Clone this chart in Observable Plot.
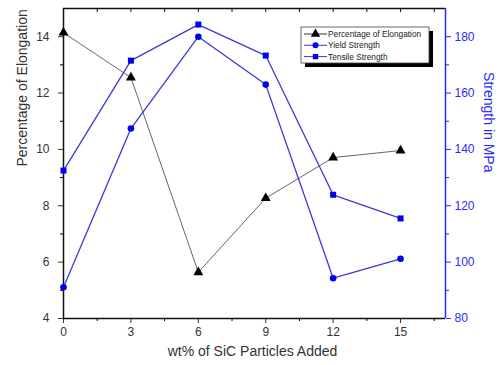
<!DOCTYPE html>
<html><head><meta charset="utf-8">
<script src="https://cdn.jsdelivr.net/npm/d3@7"></script>
<script src="https://cdn.jsdelivr.net/npm/@observablehq/plot@0.6"></script>
<style>body{margin:0;background:#fff;}</style>
</head><body><div id="chart"></div>
<script>
const wt = [0, 3, 6, 9, 12, 15];
const elongation = [14.14, 12.55, 5.64, 8.27, 9.71, 9.96];
const yieldStrength = [91.1, 147.4, 180.0, 163.0, 94.3, 101.2];
const tensileStrength = [132.5, 171.5, 184.3, 173.3, 123.9, 115.5];
const xTicks = [0, 3, 6, 9, 12, 15];
const xMinor = [1.5, 4.5, 7.5, 10.5, 13.5, 16.5];
const yTicks = [4, 6, 8, 10, 12, 14];
const yMinor = [5, 7, 9, 11, 13];
const sTicks = [80, 100, 120, 140, 160, 180];
const sMinor = [90, 110, 130, 150, 170];
const seriesNames = ["Percentage of Elongation", "Yield Strength", "Tensile Strength"];

// strength (MPa) -> elongation scale: 80 -> 4, 180 -> 14
const s2e = s => 4 + (s - 80) / 10;
const e2s = e => (e - 4) * 10 + 80;

const elongData = wt.map((x, i) => ({x, y: elongation[i]}));
const yieldData = wt.map((x, i) => ({x, y: s2e(yieldStrength[i])}));
const tensileData = wt.map((x, i) => ({x, y: s2e(tensileStrength[i])}));

const BLUE_LINE = "#3a3ad4";
const BLUE = "#0000f0";
const AXIS_BLUE = "#2a2aff";

const plot = Plot.plot({
  width: 501,
  height: 365,
  marginLeft: 63,
  marginRight: 56,
  marginTop: 8,
  marginBottom: 47,
  style: {fontFamily: "'Liberation Sans', Arial, sans-serif", fontSize: "12px", background: "#fff"},
  x: {domain: [0, 17]},
  y: {domain: [4, 15]},
  marks: [
    // axes
    Plot.axisX({ticks: xTicks, tickSize: 5, tickPadding: 4, fontSize: 12, color: "#333", label: null}),
    Plot.axisX({ticks: xMinor, tickSize: 3, tickFormat: () => "", label: null}),
    Plot.ruleX([...xTicks, ...xMinor], {insetBottom: 306, stroke: "#111"}),
    Plot.axisY({ticks: yTicks, tickSize: 5, tickPadding: 9, fontSize: 12, color: "#333", label: null}),
    Plot.axisY({ticks: yMinor, tickSize: 3, tickFormat: () => "", label: null}),
    Plot.axisY({anchor: "right", ticks: sTicks.map(s2e), tickFormat: e => Math.round(e2s(e)), tickSize: 5, tickPadding: 4, fontSize: 12, color: AXIS_BLUE, label: null}),
    Plot.axisY({anchor: "right", ticks: sMinor.map(s2e), tickSize: 3, tickFormat: () => "", color: AXIS_BLUE, label: null}),
    // frame
    Plot.ruleY([4, 15], {stroke: "#111", strokeWidth: 1.5}),
    Plot.ruleX([0], {stroke: "#111", strokeWidth: 1.5}),
    Plot.ruleX([17], {stroke: AXIS_BLUE, strokeWidth: 1.5}),
    // titles
    Plot.text(["Percentage of Elongation"], {frameAnchor: "left", dx: -41, dy: 3, rotate: -90, fontSize: 14, fill: "#333"}),
    Plot.text(["wt% of SiC Particles Added"], {frameAnchor: "bottom", dx: -2, dy: 37, fontSize: 14, fill: "#333"}),
    Plot.text(["Strength in MPa"], {frameAnchor: "right", dx: 43, dy: 9, rotate: 90, fontSize: 14, fill: AXIS_BLUE}),
    // data
    Plot.line(elongData, {x: "x", y: "y", stroke: "#555", strokeWidth: 0.9}),
    Plot.line(yieldData, {x: "x", y: "y", stroke: BLUE_LINE, strokeWidth: 1.3}),
    Plot.line(tensileData, {x: "x", y: "y", stroke: BLUE_LINE, strokeWidth: 1.3}),
    Plot.dot(elongData, {x: "x", y: "y", symbol: "triangle", fill: "#000", r: 3.7}),
    Plot.dot(yieldData, {x: "x", y: "y", symbol: "circle", fill: BLUE, r: 3.3}),
    Plot.dot(tensileData, {x: "x", y: "y", symbol: "square", fill: BLUE, r: 3.4})
  ]
});
document.getElementById("chart").appendChild(plot);

// legend
const svg = d3.select(plot);
const lg = svg.append("g").attr("font-family", "'Liberation Sans', Arial, sans-serif").attr("text-anchor", "start");
lg.append("rect").attr("x", 305).attr("y", 31).attr("width", 128).attr("height", 36).attr("fill", "#000");
lg.append("rect").attr("x", 301).attr("y", 27).attr("width", 128).attr("height", 36).attr("fill", "#fff").attr("stroke", "#444").attr("stroke-width", 0.8);
const entries = [
  {name: seriesNames[0], stroke: "#333", fill: "#000", sym: d3.symbolTriangle, size: Math.PI * 12},
  {name: seriesNames[1], stroke: BLUE_LINE, fill: BLUE, sym: d3.symbolCircle, size: Math.PI * 9},
  {name: seriesNames[2], stroke: BLUE_LINE, fill: BLUE, sym: d3.symbolSquare, size: Math.PI * 9}
];
entries.forEach((e, i) => {
  const y = 34 + i * 11.3;
  lg.append("line").attr("x1", 304).attr("x2", 327).attr("y1", y).attr("y2", y).attr("stroke", e.stroke).attr("stroke-width", 1);
  lg.append("path").attr("d", d3.symbol().type(e.sym).size(e.size)()).attr("transform", `translate(315.5,${y})`).attr("fill", e.fill);
  lg.append("text").attr("x", 328).attr("y", y).attr("dy", "0.35em").attr("font-size", 8.3).attr("text-anchor", "start").attr("fill", "#222").text(e.name);
});
</script>
</body></html>
